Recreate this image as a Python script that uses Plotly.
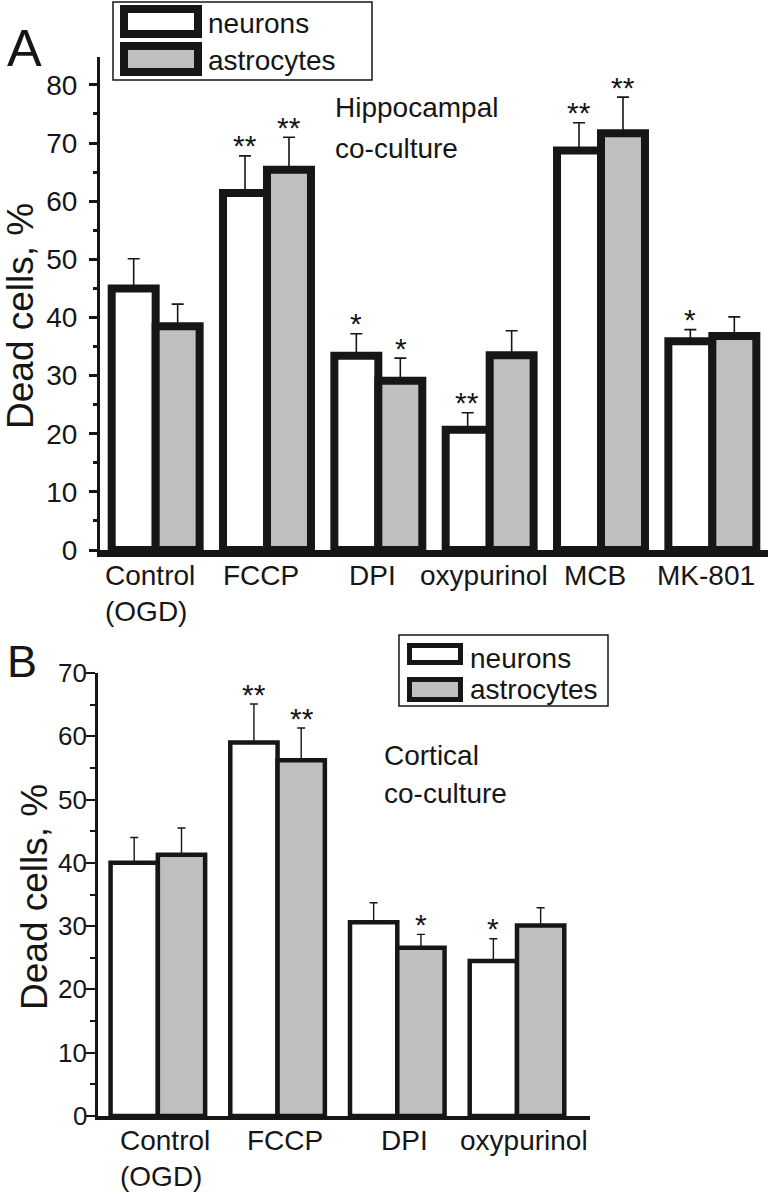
import plotly.graph_objects as go

W, H = 771, 1199

# ---------------- data ----------------
series_names = ["neurons", "astrocytes"]

a_categories = ["Control (OGD)", "FCCP", "DPI", "oxypurinol", "MCB", "MK-801"]
a_ticktext = ["Control<br>(OGD)", "FCCP", "DPI", "oxypurinol", "MCB", "MK-801"]
a_neurons = [45.0, 61.4, 33.4, 20.7, 68.7, 35.9]
a_neurons_err = [5.1, 6.4, 3.8, 2.9, 4.8, 2.0]
a_astro = [38.5, 65.4, 29.1, 33.5, 71.7, 36.8]
a_astro_err = [3.8, 5.6, 3.9, 4.2, 6.2, 3.3]
a_neurons_sig = ["", "**", "*", "**", "**", "*"]
a_astro_sig = ["", "**", "*", "", "**", ""]

b_categories = ["Control (OGD)", "FCCP", "DPI", "oxypurinol"]
b_ticktext = ["Control<br>(OGD)", "FCCP", "DPI", "oxypurinol"]
b_neurons = [40.0, 59.0, 30.6, 24.5]
b_neurons_err = [4.0, 6.1, 3.1, 3.5]
b_astro = [41.3, 56.2, 26.6, 30.1]
b_astro_err = [4.2, 5.1, 2.1, 2.8]
b_neurons_sig = ["", "**", "", "*"]
b_astro_sig = ["", "**", "*", ""]

a_yticks = [0, 10, 20, 30, 40, 50, 60, 70, 80]
b_yticks = [0, 10, 20, 30, 40, 50, 60, 70]

# ---------------- style ----------------
FONT = "Liberation Sans, Arial, sans-serif"
INK = "#161616"
GRAY = "#bfbfbf"


def px(x):
    return x / W


def py(y):
    return 1 - y / H


fig = go.Figure()

panels = [
    dict(xa="x", ya="y", cats=a_categories, n=a_neurons, ne=a_neurons_err,
         a=a_astro, ae=a_astro_err, lw=8, ew=1.6, cap=6),
    dict(xa="x2", ya="y2", cats=b_categories, n=b_neurons, ne=b_neurons_err,
         a=b_astro, ae=b_astro_err, lw=4.5, ew=1.4, cap=4),
]
for p in panels:
    for name, vals, errs, fill in [(series_names[0], p["n"], p["ne"], "white"),
                                   (series_names[1], p["a"], p["ae"], GRAY)]:
        fig.add_trace(go.Bar(
            x=p["cats"], y=vals, name=name, xaxis=p["xa"], yaxis=p["ya"],
            marker=dict(color=fill, line=dict(color=INK, width=p["lw"])),
            error_y=dict(type="data", array=errs, arrayminus=[0] * len(errs),
                         symmetric=False, color=INK, thickness=p["ew"], width=p["cap"]),
            showlegend=False,
        ))

annotations = []
shapes = []

# significance stars
for xa, ya, vals_n, err_n, sig_n, vals_a, err_a, sig_a in [
    ("x", "y", a_neurons, a_neurons_err, a_neurons_sig, a_astro, a_astro_err, a_astro_sig),
    ("x2", "y2", b_neurons, b_neurons_err, b_neurons_sig, b_astro, b_astro_err, b_astro_sig),
]:
    for i in range(len(vals_n)):
        for off, v, e, s in [(-0.2, vals_n[i], err_n[i], sig_n[i]),
                             (0.2, vals_a[i], err_a[i], sig_a[i])]:
            if s:
                annotations.append(dict(
                    x=i + off, y=v + e, xref=xa, yref=ya, text=s, showarrow=False,
                    yanchor="middle", yshift=10, font=dict(size=30, color=INK, family=FONT)))

# category labels under each panel (placed at the category positions)
for xa, texts, top_px, shift in [("x", a_ticktext, 558, -6), ("x2", b_ticktext, 1123, 7)]:
    for i, t in enumerate(texts):
        annotations.append(dict(x=i, y=py(top_px), xref=xa, yref="paper", text=t,
                                showarrow=False, xanchor="center", yanchor="top",
                                align="left", xshift=shift,
                                font=dict(size=28, color=INK, family=FONT)))

# panel B y tick labels (placed at their data values)
for v in b_yticks:
    annotations.append(dict(x=px(89), y=v, xref="paper", yref="y2", text=str(v),
                            showarrow=False, xanchor="right", yanchor="middle",
                            font=dict(size=26, color=INK, family=FONT)))

# panel letters
annotations.append(dict(x=px(5), y=py(48), xref="paper", yref="paper", text="A",
                        showarrow=False, xanchor="left", yanchor="middle",
                        font=dict(size=52, color=INK, family=FONT)))
annotations.append(dict(x=px(5), y=py(661), xref="paper", yref="paper", text="B",
                        showarrow=False, xanchor="left", yanchor="middle",
                        font=dict(size=45, color=INK, family=FONT)))

# y-axis titles
annotations.append(dict(x=px(20), y=py(316), xref="paper", yref="paper",
                        text="Dead cells, %", textangle=-90, showarrow=False,
                        xanchor="center", yanchor="middle",
                        font=dict(size=37, color=INK, family=FONT)))
annotations.append(dict(x=px(35), y=py(897), xref="paper", yref="paper",
                        text="Dead cells, %", textangle=-90, showarrow=False,
                        xanchor="center", yanchor="middle",
                        font=dict(size=37, color=INK, family=FONT)))

# culture notes
for txt, x0, ymid in [("Hippocampal", 333, 108), ("co-culture", 333, 148),
                      ("Cortical", 382, 755), ("co-culture", 382, 793)]:
    annotations.append(dict(x=px(x0), y=py(ymid), xref="paper", yref="paper",
                            text=txt, showarrow=False, xanchor="left", yanchor="middle",
                            font=dict(size=28, color=INK, family=FONT)))

# hand-made legends
legends = [
    dict(box=(113, 2, 372, 80), patches=[(124, 9, 198, 34), (124, 46, 198, 72)],
         plw=8, tx=206, ty=[24, 60], fs=28),
    dict(box=(399, 635, 608, 706), patches=[(409.5, 645.5, 460.5, 662.5), (409.5, 679.5, 460.5, 699.5)],
         plw=5, tx=468, ty=[658, 689], fs=28),
]
for lg in legends:
    x0, y0, x1, y1 = lg["box"]
    shapes.append(dict(type="rect", xref="paper", yref="paper", x0=px(x0), x1=px(x1),
                       y0=py(y1), y1=py(y0), line=dict(color=INK, width=1.5),
                       fillcolor="white", layer="above"))
    for k, (a0, b0, a1, b1) in enumerate(lg["patches"]):
        shapes.append(dict(type="rect", xref="paper", yref="paper", x0=px(a0), x1=px(a1),
                           y0=py(b1), y1=py(b0), line=dict(color=INK, width=lg["plw"]),
                           fillcolor=["white", GRAY][k], layer="above"))
        annotations.append(dict(x=px(lg["tx"]), y=py(lg["ty"][k]), xref="paper", yref="paper",
                                text=series_names[k], showarrow=False, xanchor="left",
                                yanchor="middle", font=dict(size=lg["fs"], color=INK, family=FONT)))

axis_common = dict(showgrid=False, zeroline=False, color=INK, automargin=False)

fig.update_layout(
    width=W, height=H, margin=dict(l=0, r=0, t=0, b=0, autoexpand=False),
    paper_bgcolor="white", plot_bgcolor="white",
    barmode="group", bargap=0.21, bargroupgap=0,
    font=dict(family=FONT, color=INK),
    showlegend=False,
    xaxis=dict(domain=[px(100), px(768)], anchor="y", type="category",
               categoryarray=a_categories, categoryorder="array",
               showticklabels=False, ticks="",
               showline=True, linewidth=7, linecolor=INK, **axis_common),
    yaxis=dict(domain=[py(550), py(57)], anchor="x", range=[0, 84.8],
               tickvals=a_yticks, ticks="outside", ticklen=8, tickwidth=3,
               tickcolor=INK, showline=True, linewidth=3, linecolor=INK,
               minor=dict(dtick=5, ticks="outside", ticklen=4, tickwidth=2.5, tickcolor=INK),
               tickfont=dict(size=28, family=FONT, color=INK),
               ticklabelstandoff=6, **axis_common),
    xaxis2=dict(domain=[px(98), px(590)], anchor="y2", type="category",
                categoryarray=b_categories, categoryorder="array",
                showticklabels=False, ticks="",
                showline=True, linewidth=4, linecolor=INK, **axis_common),
    yaxis2=dict(domain=[py(1116), py(673)], anchor="x2", range=[0, 70],
                tickvals=b_yticks, ticks="outside", ticklen=9, tickwidth=2,
                tickcolor=INK, showline=True, linewidth=2.5, linecolor=INK,
                minor=dict(dtick=5, ticks="outside", ticklen=5, tickwidth=2, tickcolor=INK),
                showticklabels=False, **axis_common),
    annotations=annotations,
    shapes=shapes,
)

fig.write_html("out.html", config={"displayModeBar": False},
               post_script="document.body.style.margin='0';document.body.style.overflow='hidden';")
